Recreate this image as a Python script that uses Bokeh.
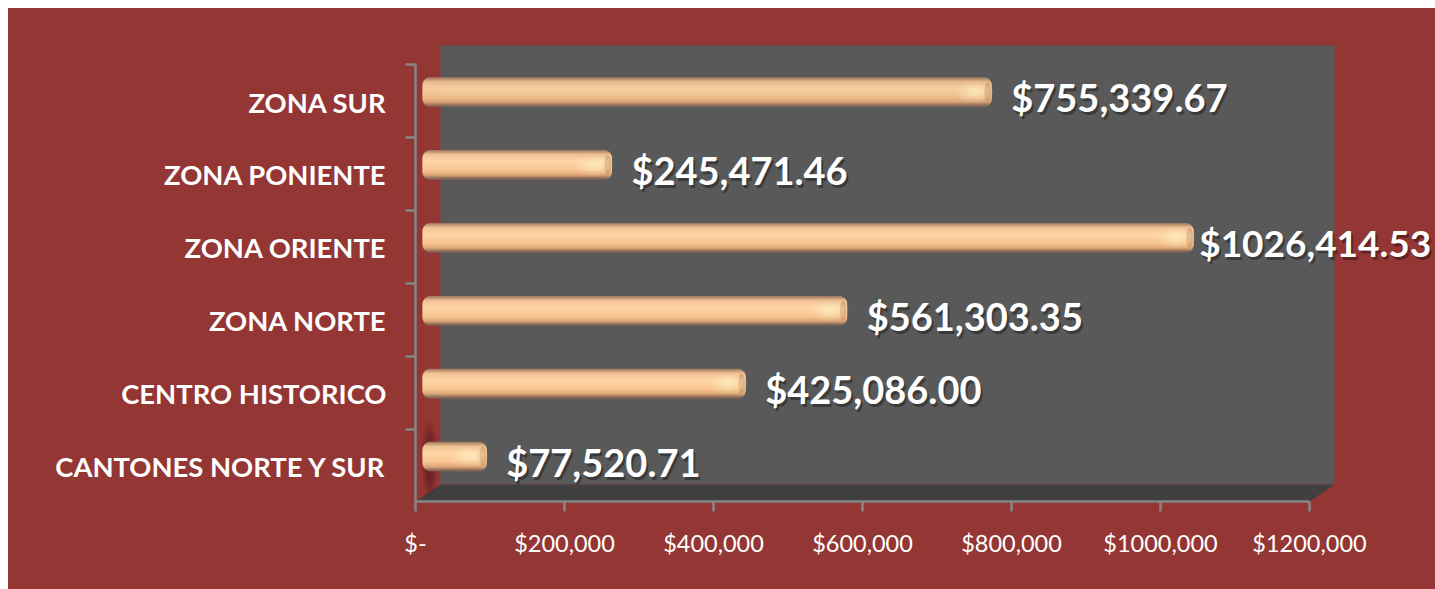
import math
from bokeh.plotting import figure
from bokeh.embed import file_html
from bokeh.resources import INLINE
from bokeh.core.properties import value
from bokeh.models import ColumnDataSource, FixedTicker, Range1d

categories = ["CANTONES NORTE Y SUR", "CENTRO HISTORICO", "ZONA NORTE", "ZONA ORIENTE", "ZONA PONIENTE", "ZONA SUR"]
amounts = [77520.71, 425086.00, 561303.35, 1026414.53, 245471.46, 755339.67]
amount_labels = ["$77,520.71", "$425,086.00", "$561,303.35", "$1026,414.53", "$245,471.46", "$755,339.67"]
x_ticks = [0, 200000, 400000, 600000, 800000, 1000000, 1200000]
x_tick_labels = ["$-", "$200,000", "$400,000", "$600,000", "$800,000", "$1000,000", "$1200,000"]

RED, WALL, FLOOR, AXIS = "#943634", "#595959", "#404040", "#868686"
FONT = "Lato"
W, H = 1427, 581
U = 1200000 / 894      # value units per pixel
R = 72.9               # pixels per category band
X0, Y0 = 415, 465      # page pixels of value 0 / first band centre


def X(px):
    return (px - X0) * U


def Y(px):
    return (Y0 - px) / R


p = figure(width=W, height=H, output_backend="svg", toolbar_location=None,
           x_range=Range1d(0, X(1435)), y_range=Range1d(Y(501), Y(8)),
           min_border_left=407, min_border_right=0, min_border_top=0, min_border_bottom=88)
p.margin = (8, 0, 0, 8)
p.styles = {"background-color": RED}
p.background_fill_color = None
p.border_fill_color = None
p.outline_line_color = None
p.grid.visible = False

# 3D walls
p.quad(left=[X(440)], right=[X(1334)], top=[Y(45)], bottom=[Y(484)], fill_color=WALL, line_color=None)
p.patch([X(440), X(1334), X(1309), X(415)], [Y(484), Y(484), Y(501), Y(501)], fill_color=FLOOR, line_color=None)

# shadow of the shortest bar on the side wall
for w, h, a in [(18, 76, .10), (14, 66, .14), (10, 56, .18), (7, 46, .22)]:
    p.ellipse(x=[X(429)], y=[Y(459)], width=[w * U], height=[h / R], fill_color="#4a1010",
              fill_alpha=a, line_color=None)

# bars: horizontal slices that build the tube shading
stops = [(0, (150, 118, 96)), (.07, (196, 150, 112)), (.16, (240, 194, 150)), (.40, (255, 214, 166)),
         (.70, (248, 196, 144)), (.86, (222, 168, 120)), (.95, (160, 120, 92)), (1, (120, 98, 84))]


def shade(t):
    for (a, ca), (b, cb) in zip(stops, stops[1:]):
        if t <= b:
            f = (t - a) / (b - a)
            return "#%02x%02x%02x" % tuple(round(u + (v - u) * f) for u, v in zip(ca, cb))
    return "#%02x%02x%02x" % stops[-1][1]


bar_h, n, rad = 29, 29, 8
ys = [i + 9 / R for i in range(len(amounts))]
for k in range(n):
    t = (k + .5) / n
    d = abs(t - .5) * bar_h
    inset = 0
    if d > bar_h / 2 - rad:
        inset = rad - math.sqrt(max(rad ** 2 - (d - bar_h / 2 + rad) ** 2, 0))
    p.hbar(y=[v + (.5 - t) * bar_h / R for v in ys], height=(bar_h / n + .6) / R,
           left=X(422) + inset * U, right=[a + (13.5 - inset) * U for a in amounts],
           fill_color=shade(t), line_color=None)

# soft highlight and darker rim at the far end of each bar
p.ellipse(x=[a + 9.5 * U for a in amounts], y=ys, width=7 * U, height=20 / R,
          fill_color="#b98558", fill_alpha=.45, line_color=None)
for w, h, a in [(38, 20, .10), (30, 16, .14), (22, 12, .2), (14, 8, .28)]:
    p.ellipse(x=[v - 4 * U for v in amounts], y=ys, width=w * U, height=h / R,
              fill_color="#fff3c8", fill_alpha=a, line_color=None)

# value labels (the longest one is slightly smaller so that it stays on the page)
offsets = [33 if a < 1e6 else 19 for a in amounts]
labels = ColumnDataSource(dict(
    x=[a + o * U for a, o in zip(amounts, offsets)],
    y=[i + 4 / R for i in range(len(amounts))],
    text=amount_labels,
    size=["38px" if a < 1e6 else "37px" for a in amounts],
))
p.text(x="x", y="y", text="text", source=labels, x_offset=2, y_offset=3, text_color="#000000", text_alpha=.35,
       text_font=value(FONT), text_font_style="bold", text_font_size="size", text_baseline="middle")
p.text(x="x", y="y", text="text", source=labels, text_color="#ffffff",
       text_font=value(FONT), text_font_style="bold", text_font_size="size", text_baseline="middle")

# axes
ax = p.xaxis[0]
ax.ticker = FixedTicker(ticks=x_ticks)
ax.major_label_overrides = dict(zip(x_ticks, x_tick_labels))
ax.bounds = (0, 1200000)
ax.axis_line_color = AXIS
ax.axis_line_width = 2.5
ax.major_tick_line_color = AXIS
ax.major_tick_line_width = 2.5
ax.major_tick_out = 10
ax.major_tick_in = 0
ax.minor_tick_line_color = None
ax.major_label_standoff = 17
ax.major_label_text_color = "#ffffff"
ax.major_label_text_font = FONT
ax.major_label_text_font_size = "23.5px"

ay = p.yaxis[0]
ay.ticker = FixedTicker(ticks=[i - 1 / R for i in range(len(categories))],
                        minor_ticks=[i - .5 for i in range(len(categories) + 1)])
ay.major_label_overrides = {i - 1 / R: c for i, c in enumerate(categories)}
ay.bounds = (Y(501), Y(64))
ay.axis_line_color = AXIS
ay.axis_line_width = 2.5
ay.major_tick_line_color = None
ay.major_tick_out = 0
ay.major_tick_in = 0
ay.minor_tick_line_color = AXIS
ay.minor_tick_line_width = 2.5
ay.minor_tick_out = 10
ay.minor_tick_in = 0
ay.major_label_standoff = 19
ay.major_label_text_color = "#ffffff"
ay.major_label_text_font = FONT
ay.major_label_text_font_style = "bold"
ay.major_label_text_font_size = "27.4px"

open("out.html", "w").write(file_html(p, INLINE))
